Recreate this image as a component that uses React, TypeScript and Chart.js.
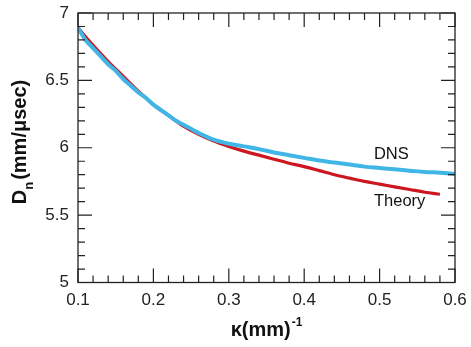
import React, { useEffect, useRef } from "react";
import { Chart, registerables } from "chart.js";

Chart.register(...registerables);

const dnsKappa = [0.1, 0.11, 0.12, 0.13, 0.14, 0.15, 0.16, 0.17, 0.18, 0.19, 0.2, 0.21, 0.22, 0.23, 0.24, 0.26, 0.28, 0.3, 0.32, 0.34, 0.36, 0.38, 0.4, 0.42, 0.44, 0.46, 0.48, 0.5, 0.52, 0.54, 0.56, 0.58, 0.6];
const dnsValues = [6.89, 6.8, 6.74, 6.68, 6.62, 6.57, 6.51, 6.46, 6.41, 6.37, 6.32, 6.28, 6.24, 6.2, 6.17, 6.11, 6.06, 6.03, 6.01, 5.99, 5.965, 5.945, 5.925, 5.905, 5.89, 5.875, 5.86, 5.85, 5.84, 5.83, 5.82, 5.815, 5.805];

const theoryKappa = [0.1, 0.12, 0.14, 0.16, 0.18, 0.2, 0.22, 0.24, 0.26, 0.28, 0.3, 0.32, 0.34, 0.36, 0.38, 0.4, 0.42, 0.44, 0.46, 0.48, 0.5, 0.52, 0.54, 0.56, 0.58];
const theoryValues = [6.89, 6.76, 6.64, 6.53, 6.42, 6.32, 6.24, 6.16, 6.1, 6.05, 6.01, 5.975, 5.945, 5.915, 5.885, 5.86, 5.83, 5.8, 5.775, 5.75, 5.73, 5.71, 5.69, 5.67, 5.655];

const xTicks = [0.1, 0.2, 0.3, 0.4, 0.5, 0.6];
const yTicks = [5, 5.5, 6, 6.5, 7];
const seriesLabels = ["DNS", "Theory"];

const FONT = "'Liberation Sans', Arial, Helvetica, sans-serif";

const framePlugin = {
  id: "frame",
  afterDraw(chart: any) {
    const { ctx, chartArea: a, scales } = chart;
    const xs = scales.x;
    const ys = scales.y;
    ctx.save();
    ctx.strokeStyle = "#222";
    ctx.lineWidth = 1.3;
    ctx.strokeRect(a.left, a.top, a.right - a.left, a.bottom - a.top);
    ctx.lineWidth = 1.2;
    // x ticks (minor every 0.02)
    for (let i = 0; i <= 25; i++) {
      const v = 0.1 + i * 0.02;
      const px = xs.getPixelForValue(v);
      const len = i % 5 === 0 ? 14 : 7;
      ctx.beginPath();
      ctx.moveTo(px, a.bottom);
      ctx.lineTo(px, a.bottom - len);
      ctx.moveTo(px, a.top);
      ctx.lineTo(px, a.top + len);
      ctx.stroke();
    }
    // y ticks (minor every 0.1)
    for (let i = 0; i <= 20; i++) {
      const v = 5 + i * 0.1;
      const py = ys.getPixelForValue(v);
      const len = i % 5 === 0 ? 14 : 7;
      ctx.beginPath();
      ctx.moveTo(a.left, py);
      ctx.lineTo(a.left + len, py);
      ctx.moveTo(a.right, py);
      ctx.lineTo(a.right - len, py);
      ctx.stroke();
    }
    ctx.fillStyle = "#111";
    // series labels
    ctx.font = `16.5px ${FONT}`;
    ctx.textBaseline = "middle";
    ctx.textAlign = "left";
    ctx.fillText(seriesLabels[0], xs.getPixelForValue(0.4925), ys.getPixelForValue(5.95));
    ctx.fillText(seriesLabels[1], xs.getPixelForValue(0.4925), ys.getPixelForValue(5.6));

    // x title: κ(mm)^-1
    const big = `bold 20px ${FONT}`;
    const sup = `bold 12px ${FONT}`;
    ctx.textBaseline = "alphabetic";
    ctx.font = big;
    const t1 = "\u03ba(mm)";
    const w1 = ctx.measureText(t1).width;
    ctx.font = sup;
    const t2 = "-1";
    const w2 = ctx.measureText(t2).width;
    const cx = (a.left + a.right) / 2;
    const sx = cx - (w1 + w2 + 1) / 2;
    const by = 336;
    ctx.font = big;
    ctx.fillText(t1, sx, by);
    ctx.font = sup;
    ctx.fillText(t2, sx + w1 + 1, by - 10);

    // y title: D_n(mm/μsec)
    ctx.save();
    ctx.translate(26, 142);
    ctx.rotate(-Math.PI / 2);
    ctx.font = big;
    const d = "D";
    const wd = ctx.measureText(d).width;
    const rest = "(mm/\u03bcsec)";
    const wr = ctx.measureText(rest).width;
    ctx.font = `bold 13px ${FONT}`;
    const wn = ctx.measureText("n").width;
    const total = wd + wn + 2 + wr;
    let p = -total / 2;
    ctx.font = big;
    ctx.fillText(d, p, 0);
    p += wd;
    ctx.font = `bold 13px ${FONT}`;
    ctx.fillText("n", p, 7);
    p += wn + 2;
    ctx.font = big;
    ctx.fillText(rest, p, 0);
    ctx.restore();

    ctx.restore();
  },
};

export default function App() {
  const ref = useRef<HTMLCanvasElement>(null);
  useEffect(() => {
    if (!ref.current) return;
    const chart = new Chart(ref.current, {
      type: "line",
      data: {
        datasets: [
          {
            label: seriesLabels[0],
            data: dnsKappa.map((k, i) => ({ x: k, y: dnsValues[i] })),
            borderColor: "#3fb6e6",
            borderWidth: 4,
            pointRadius: 0,
            cubicInterpolationMode: "monotone",
          },
          {
            label: seriesLabels[1],
            data: theoryKappa.map((k, i) => ({ x: k, y: theoryValues[i] })),
            borderColor: "#cc1620",
            borderWidth: 3.2,
            pointRadius: 0,
            cubicInterpolationMode: "monotone",
          },
        ],
      },
      options: {
        animation: false,
        responsive: false,
        layout: { padding: { top: 13, right: 16, left: 0, bottom: 0 } },
        plugins: { legend: { display: false }, tooltip: { enabled: false } },
        scales: {
          x: {
            type: "linear",
            min: 0.1,
            max: 0.6,
            afterBuildTicks: (s: any) => {
              s.ticks = xTicks.map((v) => ({ value: v }));
            },
            afterFit: (s: any) => {
              s.height = 64.5;
              s.paddingLeft = 0;
              s.paddingRight = 0;
            },
            grid: { display: false, drawTicks: false },
            border: { display: false },
            ticks: {
              padding: 8,
              color: "#222",
              font: { family: FONT, size: 17 },
              maxRotation: 0,
              callback: (v: any) => Number(v).toFixed(1),
            },
          },
          y: {
            type: "linear",
            min: 5,
            max: 7,
            afterBuildTicks: (s: any) => {
              s.ticks = yTicks.map((v) => ({ value: v }));
            },
            afterFit: (s: any) => {
              s.width = 78;
              s.paddingTop = 0;
              s.paddingBottom = 0;
            },
            grid: { display: false, drawTicks: false },
            border: { display: false },
            ticks: {
              padding: 9,
              color: "#222",
              font: { family: FONT, size: 17 },
              callback: (v: any) => String(v),
            },
          },
        },
      },
      plugins: [framePlugin],
    } as any);
    return () => chart.destroy();
  }, []);
  return (
    <div style={{ position: "fixed", left: 0, top: 0, width: 471, height: 347, background: "#fff" }}>
      <canvas ref={ref} width={471} height={347} style={{ display: "block" }} />
    </div>
  );
}
